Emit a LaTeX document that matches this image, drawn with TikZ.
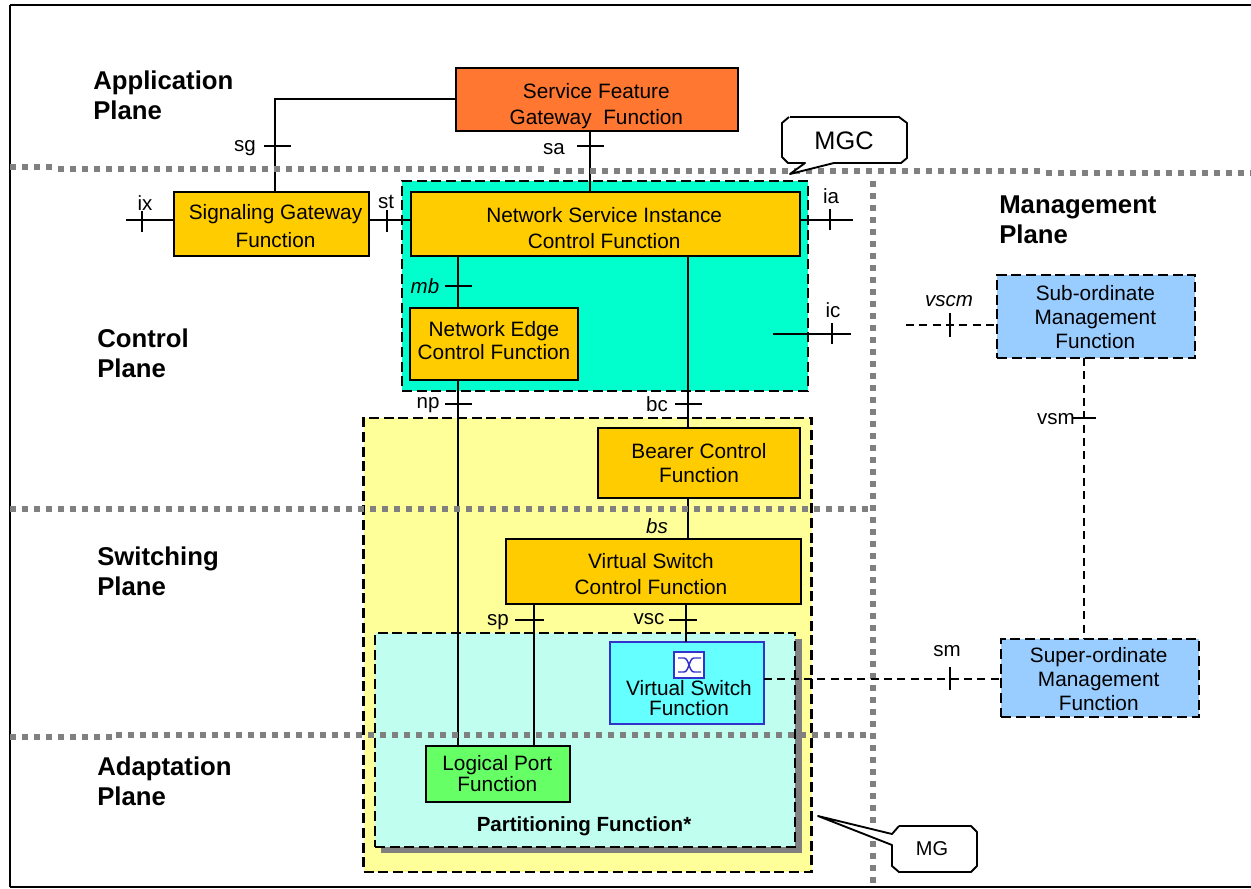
\documentclass[tikz,border=0pt]{standalone}
\usepackage{fontspec}
\setmainfont{Liberation Sans}
\definecolor{orangebox}{HTML}{FF7730}
\definecolor{goldbox}{HTML}{FFCC00}
\definecolor{tealzone}{HTML}{00FFCC}
\definecolor{yellowzone}{HTML}{FFFF99}
\definecolor{palezone}{HTML}{C0FFF0}
\definecolor{cyanbox}{HTML}{66FFFF}
\definecolor{greenbox}{HTML}{66FF66}
\definecolor{bluebox}{HTML}{99CCFF}
\definecolor{vsblue}{HTML}{3333CC}
\definecolor{dotgray}{HTML}{808080}
% px = 0.75pt
\newcommand\fpx[2]{\fontsize{#1pt}{#2pt}\selectfont}
% text of a box, offset from the box centre by dx, dy (in pt)
\newcommand\boxtxt[3]{\raisebox{#2}[0pt][0pt]{\makebox[0pt]{\kern#1\kern#1\begin{tabular}{@{}c@{}}#3\end{tabular}}}}
\tikzset{
  x=0.75pt,y=-0.75pt,
  boxbase/.style={draw=black,line width=1.5pt,inner sep=0pt,outer sep=0pt,font=\fpx{15.6}{18}},
  funcbox/.style={boxbase,fill=goldbox},
  dashbox/.style={boxbase,fill=bluebox,dash pattern=on 7.5pt off 3.5pt},
  zone/.style={draw=black,line width=1.6pt,dash pattern=on 7.5pt off 3.5pt,inner sep=0pt,outer sep=0pt},
  link/.style={draw=black,line width=1.5pt},
  dashlink/.style={draw=black,line width=1.3pt,dash pattern=on 6pt off 4pt},
  tick/.style={draw=black,line width=1.3pt},
  plane/.style={anchor=west,align=left,inner sep=0pt,font=\fpx{19.3}{22.6}\bfseries},
  iflabel/.style={inner sep=0pt,font=\fpx{15.4}{17}},
  planeline/.style={draw=dotgray,line width=4.2pt,dash pattern=on 4.5pt off 4.5pt},
  callout/.style={draw=black,line width=1.4pt,fill=white,line join=round},
}
\newcommand\hz[5]{\coordinate (#1) at (#2,#3); \draw[tick] (#1)+(#4,0) -- +(#5,0);}
\newcommand\vt[5]{\coordinate (#1) at (#2,#3); \draw[tick] (#1)+(0,#4) -- +(0,#5);}
\begin{document}
\begin{tikzpicture}
\useasboundingbox (0,0) rectangle (1251,888);
\fill[white] (0,0) rectangle (1251,888);
% zones
\node[zone,fill=yellowzone,minimum width=336pt,minimum height=340.5pt] (mgzone) at (587.5,645) {};
\fill[dotgray] (381,639) rectangle (802,853);
\node[zone,fill=palezone,minimum width=315pt,minimum height=160.5pt] (partzone) at (585,740) {};
\node[zone,fill=tealzone,minimum width=304.5pt,minimum height=157.5pt] (mgczone) at (605,286) {};
\draw[draw=black,line width=1.9pt] (10,5) -- (1251,5) (10,5) -- (10,887);
\draw[draw=black,line width=1.1pt] (10,887) -- (1251,887);
% boxes
\node[boxbase,fill=orangebox,minimum width=211.5pt,minimum height=47.25pt] (sfg) at (597,99.5)
  {\boxtxt{-.5pt}{-9pt}{Service Feature\\[2pt]Gateway\ \ Function}};
\node[funcbox,minimum width=146.25pt,minimum height=48pt] (sgf) at (271.5,224)
  {\boxtxt{3pt}{-7pt}{Signaling Gateway\\[3.2pt]Function}};
\node[funcbox,minimum width=291.75pt,minimum height=48pt] (nsi) at (605.5,224)
  {\boxtxt{-1pt}{-8.5pt}{Network Service Instance\\[1.5pt]Control Function}};
\node[funcbox,minimum width=126pt,minimum height=54pt] (nec) at (494,344)
  {\boxtxt{0pt}{-3pt}{Network Edge\\[-.5pt]Control Function}};
\node[funcbox,minimum width=151.5pt,minimum height=52.5pt] (bcf) at (699,463)
  {\boxtxt{0pt}{-5.8pt}{Bearer Control\\Function}};
\node[funcbox,minimum width=221.25pt,minimum height=48.75pt] (vsc) at (653,571.5)
  {\boxtxt{-1.5pt}{-7.5pt}{Virtual Switch\\[1.5pt]Control Function}};
\node[boxbase,draw=vsblue,fill=cyanbox,minimum width=115.5pt,minimum height=61.5pt] (vsf) at (687,683)
  {\boxtxt{1.5pt}{-17pt}{Virtual Switch\\[-3pt]Function}};
\node[boxbase,fill=greenbox,minimum width=108pt,minimum height=42pt] (lpf) at (498,774)
  {\boxtxt{-.5pt}{-5pt}{Logical Port\\[-2pt]Function}};
\node[dashbox,minimum width=148.5pt,minimum height=62.25pt] (sub) at (1096,316.5)
  {\boxtxt{-.5pt}{-6pt}{Sub-ordinate\\Management\\Function}};
\node[dashbox,minimum width=148.5pt,minimum height=58.5pt] (sup) at (1100,678)
  {\boxtxt{-1pt}{-6.5pt}{Super-ordinate\\Management\\Function}};
% switch icon
\node[draw=vsblue,line width=1.5pt,fill=white,minimum width=22.5pt,minimum height=19.5pt,inner sep=0pt] (icon) at (688.5,665) {};
\draw[vsblue,line width=1.1pt] (678,658) -- (684,658) .. controls (689,658) and (689,672) .. (694,672) -- (701,672);
\draw[vsblue,line width=1.1pt] (678,672) -- (684,672) .. controls (689,672) and (689,658) .. (694,658) -- (701,658);
% ticks and connectors
\hz{tsg}{275}{146}{-11}{16}
\draw[link] (sfg.west) -| (tsg |- sgf.north);
\hz{tsa}{590}{146}{-13}{14}
\draw[link] (tsa |- sfg.south) -- (tsa |- nsi.north);
\coordinate (ixend) at (126,220);
\vt{tix}{142}{220}{-9}{12}
\draw[link] (ixend) -- (ixend -| sgf.west);
\vt{tst}{387}{220}{-10}{12}
\draw[link] (tst -| sgf.east) -- (tst -| nsi.west);
\hz{tmb}{458}{286}{-13}{14}
\draw[link] (tmb |- nsi.south) -- (tmb |- nec.north);
\hz{tbc}{688}{404}{-13}{14}
\draw[link] (tbc |- nsi.south) -- (tbc |- bcf.north);
\hz{tnp}{458}{404}{-13}{14}
\draw[link] (tnp |- nec.south) -- (tnp |- lpf.north);
\coordinate (iaend) at (853,220);
\vt{tia}{830}{220}{-11}{10}
\draw[link] (iaend -| nsi.east) -- (iaend);
\coordinate (icstart) at (773,334);
\coordinate (icend) at (851,334);
\vt{tic}{832}{334}{-11}{10}
\draw[link] (icstart) -- (icend);
\coordinate (tbs) at (688,520);
\draw[link] (tbs |- bcf.south) -- (tbs |- vsc.north);
\hz{tsp}{534}{620}{-19}{10}
\draw[link] (tsp |- vsc.south) -- (tsp |- lpf.north);
\hz{tvs}{686}{620}{-17}{11}
\draw[link] (tvs |- vsc.south) -- (tvs |- vsf.north);
% plane boundaries
\draw[planeline] (10,167) -- (52,167);
\draw[planeline] (58,169) -- (548,169);
\draw[planeline] (554,171) -- (1040,171);
\draw[planeline] (1046,173) -- (1251,173);
\draw[planeline] (873,181) -- (873,888);
\draw[planeline] (10,509) -- (868,509);
\draw[planeline] (10,737) -- (112,737);
\draw[planeline] (116,735) -- (866,735);
% dashed connectors
\coordinate (vscmend) at (906,325);
\vt{tvscm}{950}{325}{-12}{12}
\draw[dashlink] (vscmend) -- (vscmend -| sub.west);
\hz{tvsm}{1084}{418}{-12}{12}
\draw[dashlink] (tvsm |- sub.south) -- (tvsm |- sup.north);
\vt{tsm}{950}{679}{-12}{11}
\draw[dashlink] (tsm -| vsf.east) -- (tsm -| sup.west);
% interface labels
\node[iflabel] (lsg) at (245,148) {sg};
\node[iflabel] (lsa) at (554,149) {sa};
\node[iflabel] (lix) at (145,203) {ix};
\node[iflabel] (lst) at (386,202) {st};
\node[iflabel,font=\fpx{15.4}{17}\itshape] (lmb) at (425,286) {mb};
\node[iflabel] (lbc) at (657,404) {bc};
\node[iflabel] (lnp) at (428,405) {np};
\node[iflabel] (lia) at (831,196) {ia};
\node[iflabel] (lic) at (833,310) {ic};
\node[iflabel,font=\fpx{15.4}{17}\itshape] (lvscm) at (949,301) {vscm};
\node[iflabel] (lvsm) at (1056,419) {vsm};
\node[iflabel] (lsm) at (947,651) {sm};
\node[iflabel,font=\fpx{15.4}{17}\itshape] (lbs) at (657,526) {bs};
\node[iflabel] (lsp) at (498,622) {sp};
\node[iflabel] (lvsc) at (649,619) {vsc};
% plane names
\node[plane] (papp) at (93,95) {Application\\Plane};
\node[plane] (pctl) at (97,353) {Control\\Plane};
\node[plane] (psw) at (97,571) {Switching\\Plane};
\node[plane] (pad) at (97,781) {Adaptation\\Plane};
\node[plane] (pmg) at (999,220) {Management\\Plane};
\node[inner sep=0pt,font=\fpx{15.4}{17}\bfseries] (pfn) at (584,826) {Partitioning Function*};
% callouts
\draw[callout] (790,117) -- (899,117) -- (907,123) -- (907,158) -- (901,163) -- (834,163) -- (790,174) -- (805,163) -- (788,163) -- (782,157) -- (782,123) -- (789,117);
\node[inner sep=0pt,font=\fpx{19}{21}] (mgc) at (844,141) {MGC};
\draw[callout] (899,826) -- (971,826) -- (977,832) -- (977,866) -- (971,872) -- (899,872) -- (892,866) -- (892,845) -- (818,816) -- (892,834) -- (899,826);
\node[inner sep=0pt,font=\fpx{15}{17}] (mg) at (932,849) {MG};
\end{tikzpicture}
\end{document}
